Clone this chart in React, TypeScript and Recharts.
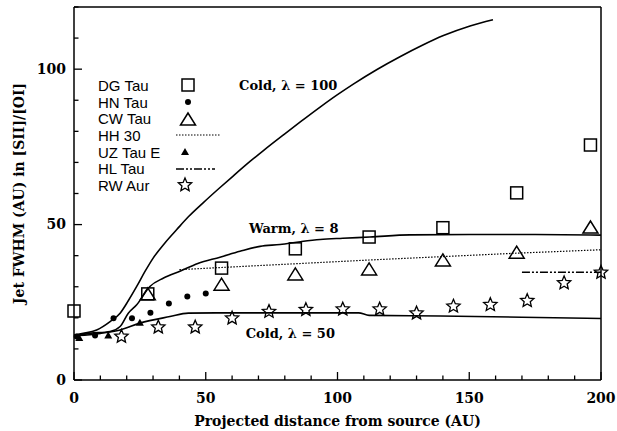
import React from 'react';
import {
  ComposedChart,
  Line,
  Scatter,
  XAxis,
  YAxis,
  Legend,
  ReferenceDot,
} from 'recharts';

// observed jet widths, distance (AU) vs FWHM (AU)
const dgTauX = [0, 28, 56, 84, 112, 140, 168, 196];
const dgTauY = [22.2, 27.7, 36, 42.2, 46, 49, 60.2, 75.6];

const hnTauX = [1, 8, 15, 22, 29, 36, 43, 50];
const hnTauY = [14, 14.3, 19.9, 19.9, 21.6, 24.6, 26.9, 27.8];

const cwTauX = [28, 56, 84, 112, 140, 168, 196];
const cwTauY = [27.4, 30.5, 33.8, 35.4, 38.3, 40.8, 48.9];

const hh30X = [40, 56, 84, 112, 140, 168, 200];
const hh30Y = [35.5, 36.2, 37.4, 38.6, 39.7, 40.8, 41.9];

const uzTauX = [2, 13, 25];
const uzTauY = [13.5, 14.3, 18.4];

const hlTauX = [170, 200];
const hlTauY = [34.7, 34.7];

const rwAurX = [18, 32, 46, 60, 74, 88, 102, 116, 130, 144, 158, 172, 186, 200];
const rwAurY = [14, 17, 17, 19.9, 22, 22.6, 22.8, 22.8, 21.5, 23.7, 24.2, 25.5, 31.2, 34.6];

// model curves
const cold100X = [0, 3.5, 8.6, 13.7, 17.5, 20.6, 23.8, 27, 30.1, 34.5, 39, 43.4, 49, 55, 60.5, 66.8, 72, 80, 86, 93.4, 100, 106, 115, 123.7, 132, 140.2, 150.3, 159];
const cold100Y = [14.5, 15, 16.1, 18.8, 21.5, 25.5, 30.1, 35, 39.3, 44.1, 48.4, 52.5, 57, 61.6, 65.7, 70.3, 73.9, 79.2, 83.1, 87.8, 91.8, 95.2, 99.9, 104, 107.6, 110.8, 113.9, 115.9];

const warm8X = [0, 6, 13.7, 17.5, 20.6, 23.8, 28.8, 34, 40.2, 47, 55.4, 63, 70.6, 78.2, 86, 93.4, 102, 112.3, 127.5, 150, 175, 200];
const warm8Y = [14.2, 15, 15.6, 17.2, 21.5, 24.2, 30.1, 32.8, 35, 37.5, 39.5, 41.4, 43, 43.6, 44.5, 45.2, 45.6, 46, 46.7, 46.8, 46.8, 46.6];

const cold50X = [0, 5, 10, 17.5, 25, 36.4, 43.4, 54, 75, 108, 112, 139, 170, 200];
const cold50Y = [14.3, 14.5, 15, 16.1, 18.3, 20.4, 21.5, 21.6, 21.6, 21.6, 20.8, 20.6, 20.2, 19.8];

const xTicks = [0, 10, 20, 30, 40, 50, 60, 70, 80, 90, 100, 110, 120, 130, 140, 150, 160, 170, 180, 190, 200];
const yTicks = [0, 10, 20, 30, 40, 50, 60, 70, 80, 90, 100, 110, 120];

const legendNames = ['DG Tau', 'HN Tau', 'CW Tau', 'HH 30', 'UZ Tau E', 'HL Tau', 'RW Aur'];

const modelLabels = [
  { x: 81.3, y: 94.9, text: 'Cold, \u03bb = 100' },
  { x: 83.4, y: 48.9, text: 'Warm, \u03bb = 8' },
  { x: 82.1, y: 15.1, text: 'Cold, \u03bb = 50' },
];

const zip = (xs: number[], ys: number[]) => xs.map((x, i) => ({ x, y: ys[i] }));

const serif = "'DejaVu Serif', serif";
const sans = "'Liberation Sans', Arial, sans-serif";

// marker glyphs, centred on (cx, cy)
const OpenSquare = ({ cx, cy }: any) => (
  <rect x={cx - 6} y={cy - 6} width={12} height={12} fill="none" stroke="#000" strokeWidth={1.5} />
);
const Dot = ({ cx, cy }: any) => <circle cx={cx} cy={cy} r={3} fill="#000" />;
const OpenTriangle = ({ cx, cy }: any) => (
  <polygon
    points={`${cx},${cy - 7} ${cx - 7.5},${cy + 5} ${cx + 7.5},${cy + 5}`}
    fill="none"
    stroke="#000"
    strokeWidth={1.5}
    strokeLinejoin="miter"
  />
);
const SmallTriangle = ({ cx, cy }: any) => (
  <polygon points={`${cx},${cy - 4} ${cx - 4},${cy + 3} ${cx + 4},${cy + 3}`} fill="#000" />
);
const starPoints = (cx: number, cy: number, ro: number, ri: number) => {
  const pts: string[] = [];
  for (let i = 0; i < 10; i++) {
    const r = i % 2 === 0 ? ro : ri;
    const a = (Math.PI / 5) * i - Math.PI / 2;
    pts.push(`${cx + r * Math.cos(a)},${cy + r * Math.sin(a)}`);
  }
  return pts.join(' ');
};
const OpenStar = ({ cx, cy }: any) => (
  <polygon points={starPoints(cx, cy, 7, 3.2)} fill="none" stroke="#000" strokeWidth={1.3} />
);

const legendGlyphs = [
  <OpenSquare cx={13} cy={8} />,
  <Dot cx={13} cy={8} />,
  <OpenTriangle cx={13} cy={9} />,
  <line x1={1} x2={46} y1={8} y2={8} stroke="#000" strokeWidth={1.2} strokeDasharray="1.5 1.5" />,
  <SmallTriangle cx={10} cy={8} />,
  <line x1={1} x2={40} y1={8} y2={8} stroke="#000" strokeWidth={1.5} strokeDasharray="8 2 2 2 2 2" />,
  <OpenStar cx={10} cy={8} />,
];

const LegendBox = () => (
  <div style={{ fontFamily: sans, fontSize: 15, color: '#000', lineHeight: 1 }}>
    {legendNames.map((name, i) => (
      <div key={name} style={{ display: 'flex', alignItems: 'center', height: 16.7 }}>
        <span style={{ width: 77, whiteSpace: 'nowrap' }}>{name}</span>
        <svg width={48} height={16} style={{ overflow: 'visible' }}>
          {legendGlyphs[i]}
        </svg>
      </div>
    ))}
  </div>
);

const tickFont = { fontFamily: serif, fontWeight: 'bold', fontSize: 14, fill: '#000' };

const BottomTick = ({ x, y, payload }: any) => {
  const major = payload.value % 50 === 0;
  return (
    <g>
      <line x1={x} x2={x} y1={y} y2={y - (major ? 8 : 4.5)} stroke="#000" strokeWidth={1.3} />
      {major && (
        <text x={x} y={y + 18} dy="0.35em" textAnchor="middle" {...tickFont}>
          {payload.value}
        </text>
      )}
    </g>
  );
};
const TopTick = ({ x, y, payload }: any) => {
  const major = payload.value % 50 === 0;
  return <line x1={x} x2={x} y1={y} y2={y + (major ? 8 : 4.5)} stroke="#000" strokeWidth={1.3} />;
};
const LeftTick = ({ x, y, payload }: any) => {
  const major = payload.value % 50 === 0;
  return (
    <g>
      <line x1={x} x2={x + (major ? 8 : 4.5)} y1={y} y2={y} stroke="#000" strokeWidth={1.3} />
      {major && (
        <text x={x - 8} y={y} dy="0.35em" textAnchor="end" {...tickFont}>
          {payload.value}
        </text>
      )}
    </g>
  );
};
const RightTick = ({ x, y, payload }: any) => {
  const major = payload.value % 50 === 0;
  return <line x1={x} x2={x - (major ? 8 : 4.5)} y1={y} y2={y} stroke="#000" strokeWidth={1.3} />;
};

const axisLine = { stroke: '#000', strokeWidth: 1.5 };

export default function App() {
  return (
    <div style={{ position: 'absolute', left: 0, top: 0, background: '#fff' }}>
      <ComposedChart width={617} height={431} margin={{ top: 0, right: 0, bottom: 0, left: 0 }}>
        <XAxis
          xAxisId="x"
          dataKey="x"
          type="number"
          domain={[0, 200]}
          ticks={xTicks}
          interval={0}
          height={51}
          tickSize={0}
          tickMargin={0}
          tickLine={false}
          axisLine={axisLine}
          tick={<BottomTick />}
          label={{
            value: 'Projected distance from source (AU)',
            position: 'insideBottom',
            offset: 5,
            style: { fontFamily: serif, fontWeight: 'bold', fontSize: 14, fill: '#000' },
          }}
        />
        <XAxis
          xAxisId="top"
          orientation="top"
          type="number"
          domain={[0, 200]}
          ticks={xTicks}
          interval={0}
          height={7}
          tickSize={0}
          tickMargin={0}
          tickLine={false}
          axisLine={axisLine}
          tick={<TopTick />}
        />
        <YAxis
          yAxisId="y"
          dataKey="y"
          type="number"
          domain={[0, 120]}
          ticks={yTicks}
          interval={0}
          width={74}
          tickSize={0}
          tickMargin={0}
          tickLine={false}
          axisLine={axisLine}
          tick={<LeftTick />}
          label={{
            value: 'Jet FWHM (AU) in [SII]/[OI]',
            angle: -90,
            position: 'insideLeft',
            offset: 19,
            style: { textAnchor: 'middle', fontFamily: serif, fontWeight: 'bold', fontSize: 14, fill: '#000' },
          }}
        />
        <YAxis
          yAxisId="right"
          orientation="right"
          type="number"
          domain={[0, 120]}
          ticks={yTicks}
          interval={0}
          width={16}
          tickSize={0}
          tickMargin={0}
          tickLine={false}
          axisLine={axisLine}
          tick={<RightTick />}
        />

        <Line xAxisId="x" yAxisId="y" data={zip(cold100X, cold100Y)} dataKey="y" type="monotone" stroke="#000" strokeWidth={1.6} dot={false} isAnimationActive={false} legendType="none" />
        <Line xAxisId="x" yAxisId="y" data={zip(warm8X, warm8Y)} dataKey="y" type="monotone" stroke="#000" strokeWidth={1.6} dot={false} isAnimationActive={false} legendType="none" />
        <Line xAxisId="x" yAxisId="y" data={zip(cold50X, cold50Y)} dataKey="y" type="monotone" stroke="#000" strokeWidth={1.6} dot={false} isAnimationActive={false} legendType="none" />

        <Line xAxisId="x" yAxisId="y" name="HH 30" data={zip(hh30X, hh30Y)} dataKey="y" type="linear" stroke="#000" strokeWidth={1.2} strokeDasharray="1.5 1.5" dot={false} isAnimationActive={false} />
        <Line xAxisId="x" yAxisId="y" name="HL Tau" data={zip(hlTauX, hlTauY)} dataKey="y" type="linear" stroke="#000" strokeWidth={1.5} strokeDasharray="8 2 2 2 2 2" dot={false} isAnimationActive={false} />

        <Scatter xAxisId="x" yAxisId="y" name="DG Tau" data={zip(dgTauX, dgTauY)} dataKey="y" shape={<OpenSquare />} isAnimationActive={false} />
        <Scatter xAxisId="x" yAxisId="y" name="HN Tau" data={zip(hnTauX, hnTauY)} dataKey="y" shape={<Dot />} isAnimationActive={false} />
        <Scatter xAxisId="x" yAxisId="y" name="CW Tau" data={zip(cwTauX, cwTauY)} dataKey="y" shape={<OpenTriangle />} isAnimationActive={false} />
        <Scatter xAxisId="x" yAxisId="y" name="UZ Tau E" data={zip(uzTauX, uzTauY)} dataKey="y" shape={<SmallTriangle />} isAnimationActive={false} />
        <Scatter xAxisId="x" yAxisId="y" name="RW Aur" data={zip(rwAurX, rwAurY)} dataKey="y" shape={<OpenStar />} isAnimationActive={false} />

        {modelLabels.map((m) => (
          <ReferenceDot
            key={m.text}
            xAxisId="x"
            yAxisId="y"
            x={m.x}
            y={m.y}
            r={1}
            fill="none"
            stroke="none"
            ifOverflow="visible"
            label={{
              value: m.text,
              position: 'center',
              style: { fontFamily: serif, fontWeight: 'bold', fontSize: 13, fill: '#000' },
            }}
          />
        ))}

        <Legend
          layout="vertical"
          verticalAlign="middle"
          align="center"
          content={<LegendBox />}
          wrapperStyle={{ left: 98, top: 77, width: 'auto', height: 'auto' }}
        />
      </ComposedChart>
    </div>
  );
}
